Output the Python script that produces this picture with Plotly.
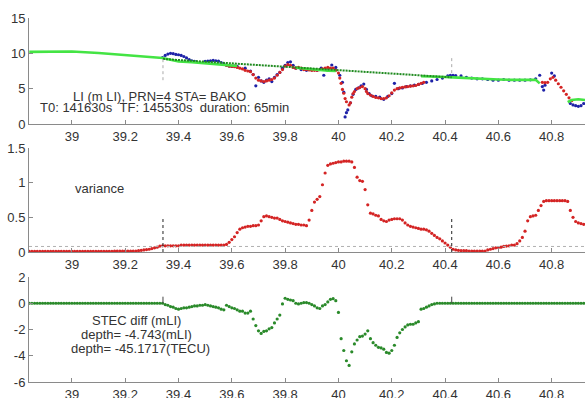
import plotly.graph_objects as go

# ---------------- data ----------------
T0_H = 141630 / 3600.0   # 39.342 h
TF_H = 145530 / 3600.0   # 40.425 h

x_ticks = [39, 39.2, 39.4, 39.6, 39.8, 40, 40.2, 40.4, 40.6, 40.8]
x_tick_text = ["39", "39.2", "39.4", "39.6", "39.8", "40", "40.2", "40.4", "40.6", "40.8"]

# top panel: LI
li_light_x = [38.84, 38.9, 39.0, 39.1, 39.2, 39.3, 39.34, 39.37, 39.4, 39.45, 39.5, 39.55, 39.6, 39.62, None,
              39.84, 39.88, 39.92, 39.96, 39.99, None,
              40.31, 40.35, 40.4, 40.43, 40.5, 40.55, 40.6, 40.65, 40.7, 40.74, 40.755, None,
              40.86, 40.875, 40.9, 40.925]
li_light_y = [10.2, 10.25, 10.25, 10.05, 9.8, 9.5, 9.35, 9.1, 8.85, 8.75, 8.6, 8.45, 8.3, 8.2, None,
              7.95, 7.8, 7.7, 7.55, 7.5, None,
              6.75, 6.75, 6.65, 6.6, 6.45, 6.35, 6.3, 6.25, 6.2, 6.25, 5.75, None,
              3.1, 3.4, 3.5, 3.4]

li_trend_x = [T0_H, TF_H]
li_trend_y = [9.2, 6.6]

li_blue_x = [39.34, 39.35, 39.36, 39.37, 39.38, 39.39, 39.40, 39.41, 39.42, 39.43, 39.44, 39.45, 39.46,
             39.50, 39.51, 39.52, 39.53, 39.54, 39.55, 39.56, 39.57, 39.58, 39.59, 39.60, 39.61, 39.62,
             39.65, 39.67, 39.68, 39.69, 39.70, 39.71, 39.72, 39.73, 39.74, 39.75, 39.76, 39.77, 39.78,
             39.79, 39.80, 39.81, 39.82, 39.83, 39.84,
             39.86, 39.88, 39.90, 39.92, 39.935, 39.945, 39.96, 39.975, 39.99, 40.005, 40.015, 40.02,
             40.025, 40.03, 40.035, 40.045, 40.055, 40.065, 40.075, 40.085, 40.095, 40.105, 40.115,
             40.125, 40.14, 40.155, 40.17, 40.185, 40.2, 40.21, 40.225, 40.24, 40.255, 40.27, 40.285,
             40.3, 40.315,
             40.33, 40.35, 40.37, 40.39, 40.41, 40.42, 40.43, 40.44, 40.46, 40.48, 40.50, 40.52, 40.54,
             40.56, 40.58, 40.60, 40.62, 40.64, 40.66, 40.68, 40.70, 40.72, 40.74, 40.755, 40.765,
             40.77, 40.775, 40.80, 40.81,
             40.87, 40.88, 40.89, 40.90, 40.91, 40.92]
li_blue_y = [9.4, 9.7, 9.9, 10.0, 9.95, 9.85, 9.8, 9.7, 9.55, 9.35, 9.1, 8.95, 8.85,
             8.85, 8.9, 8.95, 9.0, 8.95, 8.9, 8.7, 8.5, 8.3, 8.2, 8.15, 8.2, 8.15,
             7.9, 7.5, 7.0, 5.4, 6.6, 6.1, 5.9, 6.2, 6.4, 6.0, 6.6, 7.0, 7.3,
             7.9, 8.3, 8.7, 8.8, 8.3, 7.9,
             7.7, 7.6, 7.65, 7.6, 7.9, 6.9, 7.6, 8.35, 8.0, 6.9, 5.9, 4.5,
             1.0, 1.6, 2.0, 3.0, 4.2, 4.9, 5.1, 5.4, 5.65, 4.9, 4.3,
             4.0, 3.9, 3.8, 3.5, 3.9, 4.3, 5.75, 5.0, 5.1, 5.3, 5.4, 5.5,
             5.6, 5.75,
             5.9, 6.1, 6.3, 6.5, 6.8, 6.9, 6.9, 6.85, 6.8, 6.6, 6.5, 6.4, 6.4,
             6.3, 6.2, 6.2, 6.3, 6.2, 6.2, 6.2, 6.2, 6.25, 6.4, 6.9, 5.3,
             4.8, 5.5, 7.2, 6.8,
             2.9, 2.7, 2.6, 2.5, 2.6, 2.9]

li_red_x = [39.58, 39.59, 39.60, 39.61, 39.62, 39.63, 39.64, 39.65, 39.66, 39.67, 39.68, 39.69, 39.70,
            39.71, 39.72, 39.73, 39.74, 39.75, 39.76, 39.77, 39.78, 39.79, 39.80, 39.81, 39.82, 39.83,
            39.84, 39.85, 39.86, 39.87, 39.88, 39.89, 39.90, 39.91, 39.92, 39.93, 39.94, 39.95, 39.96,
            39.97, 39.98, 39.99, 40.0, 40.005, 40.01, 40.015, 40.02, 40.025, 40.03, 40.04, 40.045,
            40.05, 40.055, 40.06, 40.07, 40.08, 40.09, 40.10, 40.105, 40.11, 40.12, 40.13, 40.14,
            40.15, 40.16, 40.17, 40.18, 40.19, 40.20, 40.21, 40.22, 40.23, 40.24, 40.25, 40.26, 40.27,
            40.28, 40.29, 40.30, 40.31, 40.32,
            40.765, 40.775, 40.785, 40.795, 40.805, 40.815, 40.825, 40.835, 40.845, 40.855, 40.865, 40.875]
li_red_y = [8.3, 8.2, 8.15, 8.1, 8.0, 7.9, 7.8, 7.6, 7.5, 7.4, 7.0, 6.5, 6.2,
            6.1, 6.0, 6.1, 6.2, 6.3, 6.5, 6.9, 7.3, 7.7, 8.2, 8.4, 8.3, 8.0,
            7.9, 8.0, 7.9, 7.7, 7.7, 7.65, 7.6, 7.6, 7.6, 7.7, 7.8, 7.9, 8.0,
            7.9, 7.9, 7.6, 7.2, 6.5, 5.75, 4.9, 4.35, 3.6, 3.15, 2.7, 3.0,
            3.8, 4.3, 4.6, 5.0, 5.15, 5.3, 5.0, 4.6, 4.3, 4.1, 3.9, 3.75,
            3.7, 3.6, 3.6, 3.7, 4.0, 4.4, 4.8, 5.0, 5.1, 5.2, 5.25, 5.3, 5.35,
            5.4, 5.45, 5.6, 5.75, 5.9,
            5.9, 5.85, 5.9, 6.4, 6.6, 6.2, 5.7, 5.2, 4.7, 4.2, 3.7, 3.3]

# middle panel: variance, sampled every 0.01 h from 38.84
var_t_start = 38.84
var_t_step = 0.01
variance = (
    [0.01] * 32 +                                     # 38.84 - 39.15
    [0.015] * 9 +                                     # 39.16 - 39.24
    [0.02, 0.025, 0.03, 0.035, 0.04, 0.05, 0.06, 0.07, 0.085,   # 39.25 - 39.33
     0.09, 0.09, 0.09, 0.09, 0.09, 0.09, 0.09,        # 39.34 - 39.40
     0.1, 0.1, 0.1, 0.1, 0.1, 0.1, 0.1, 0.1, 0.1, 0.1,  # 39.41 - 39.50
     0.1, 0.1, 0.1, 0.1, 0.1, 0.1, 0.1,               # 39.51 - 39.57
     0.11, 0.14, 0.18, 0.22, 0.28, 0.33, 0.35, 0.36, 0.37, 0.37,  # 39.58 - 39.67
     0.38, 0.38, 0.39, 0.45, 0.51, 0.52, 0.51, 0.50, 0.49, 0.49,  # 39.68 - 39.77
     0.47, 0.45, 0.44, 0.43, 0.42, 0.41, 0.40, 0.40, 0.39, 0.39,  # 39.78 - 39.87
     0.38, 0.46, 0.60, 0.72, 0.76, 0.80, 0.97, 1.14, 1.25, 1.27,  # 39.88 - 39.97
     1.28, 1.29, 1.30, 1.30, 1.31, 1.31, 1.31, 1.30, 1.22, 1.08,  # 39.98 - 40.07
     1.03, 1.02, 0.90, 0.68, 0.56, 0.55, 0.53, 0.52, 0.47, 0.45,  # 40.08 - 40.17
     0.44, 0.46, 0.47, 0.48, 0.48, 0.48, 0.46, 0.42, 0.39, 0.37,  # 40.18 - 40.27
     0.36, 0.35, 0.34, 0.33, 0.33, 0.32, 0.30, 0.27, 0.24, 0.21,  # 40.28 - 40.37
     0.19, 0.16, 0.13, 0.10, 0.07, 0.04, 0.03, 0.025, 0.02, 0.02, # 40.38 - 40.47
     0.02, 0.015, 0.015, 0.015, 0.015, 0.015, 0.015, 0.015, 0.03, 0.04,  # 40.48 - 40.57
     0.05, 0.06, 0.065, 0.07, 0.08, 0.085, 0.09, 0.1, 0.1, 0.12,  # 40.58 - 40.67
     0.16, 0.21, 0.30, 0.45, 0.51, 0.52, 0.53, 0.60, 0.67, 0.73,  # 40.68 - 40.77
     0.74, 0.74, 0.74, 0.74, 0.74, 0.74, 0.74, 0.74, 0.73, 0.60,  # 40.78 - 40.87
     0.50, 0.44, 0.42, 0.41, 0.40]                                  # 40.88 - 40.92
)
var_threshold = 0.08

# bottom panel: STEC diff, sampled every 0.01 h from 38.84
stec_t_start = 38.84
stec_t_step = 0.01
stec_diff = (
    [0.0] * 51 +                                      # 38.84 - 39.34
    [-0.1, -0.15, -0.25, -0.3, -0.4, -0.45, -0.4, -0.35, -0.35, -0.3,   # 39.35 - 39.44
     -0.25, -0.2, -0.2, -0.15, -0.15, -0.1, -0.15, -0.2, -0.25, -0.3,   # 39.45 - 39.54
     -0.35, -0.45, -0.5, -0.15, -0.25, -0.35, -0.4, -0.5, -0.6, -0.6,   # 39.55 - 39.64
     -0.75, -0.75, -0.6, -1.2, -1.7, -2.1, -2.3, -2.15, -2.1, -1.95,    # 39.65 - 39.74
     -1.85, -1.5, -1.2, -0.9, -0.05, 0.38, 0.3, 0.25, 0.2, 0.0,         # 39.75 - 39.84
     -0.05, 0.0, 0.05, 0.05, 0.0, -0.1, -0.2, -0.35, -0.4, -0.2,        # 39.85 - 39.94
     -0.1, 0.1, 0.3, 0.35, 0.2, -0.7, -2.7, -3.6, -4.38, -4.74,         # 39.95 - 40.04
     -3.7, -3.1, -2.8, -2.55, -2.5, -2.35, -2.1, -2.7, -3.0, -3.2,      # 40.05 - 40.14
     -3.36, -3.4, -3.5, -3.75, -3.8, -3.6, -3.2, -2.6, -2.25, -2.0,     # 40.15 - 40.24
     -1.8, -1.65, -1.6, -1.6, -1.5, -1.4, -0.45, -0.4, -0.3, -0.2,      # 40.25 - 40.34
     -0.1, -0.05] +                                                       # 40.35 - 40.36
    [0.0] * 56                                                            # 40.37 - 40.92
)

# texts
NB = "\u00a0"
li_title = "LI (m LI), PRN=4 STA= BAKO"
li_sub = "T0: 141630s" + NB * 2 + "TF: 145530s" + NB * 2 + "duration: 65min"
var_label = "variance"
stec_labels = ["STEC diff (mLI)", "depth= -4.743(mLI)", "depth= -45.1717(TECU)"]

# ---------------- figure ----------------
var_x = [round(var_t_start + i * var_t_step, 4) for i in range(len(variance))]
stec_x = [round(stec_t_start + i * stec_t_step, 4) for i in range(len(stec_diff))]

C_RED = "#d42424"
C_BLUE = "#1e22a8"
C_LIME = "#44e444"
C_DKGREEN = "#1f8a1f"
C_STEC = "#2a8a2a"
AX = "#8a8a8a"
TXT = "#333333"
FONT = "Liberation Sans, Arial, sans-serif"
FS_TICK = 13
FS_TXT = 13

fig = go.Figure()
fig.add_trace(go.Scatter(x=li_blue_x, y=li_blue_y, mode="markers",
                         marker=dict(color=C_BLUE, size=3.2), xaxis="x", yaxis="y"))
fig.add_trace(go.Scatter(x=li_red_x, y=li_red_y, mode="markers",
                         marker=dict(color=C_RED, size=3.2), xaxis="x", yaxis="y"))
fig.add_trace(go.Scatter(x=li_light_x, y=li_light_y, mode="lines",
                         line=dict(color=C_LIME, width=2.6), connectgaps=False, xaxis="x", yaxis="y"))
fig.add_trace(go.Scatter(x=li_trend_x, y=li_trend_y, mode="lines",
                         line=dict(color=C_DKGREEN, width=2, dash="2px,1px"), xaxis="x", yaxis="y"))

fig.add_trace(go.Scatter(x=var_x, y=variance, mode="markers",
                         marker=dict(color=C_RED, size=3.2), xaxis="x2", yaxis="y2"))
fig.add_trace(go.Scatter(x=stec_x, y=stec_diff, mode="markers",
                         marker=dict(color=C_STEC, size=3.2), xaxis="x3", yaxis="y3"))

X_RANGE = [38.839, 40.925]
dom = {"y": [0.6884, 0.9548], "y2": [0.3668, 0.6281], "y3": [0.0402, 0.3040]}


def xax(anchor):
    return dict(range=X_RANGE, domain=[0, 1], anchor=anchor, tickvals=x_ticks, ticktext=x_tick_text,
                showgrid=False, zeroline=False, showline=True, linecolor=AX, linewidth=1,
                ticks="inside", ticklen=4, tickcolor=AX, automargin=False,
                tickfont=dict(size=FS_TICK, color=TXT, family=FONT))


def yax(anchor, rng, tv, tt, d):
    return dict(range=rng, domain=d, anchor=anchor, tickvals=tv, ticktext=tt,
                showgrid=False, zeroline=False, showline=True, linecolor=AX, linewidth=1,
                ticks="inside", ticklen=4, tickcolor=AX, automargin=False,
                tickfont=dict(size=FS_TICK, color=TXT, family=FONT))


shapes = []
# top panel dotted markers
shapes.append(dict(type="line", xref="x", yref="y", x0=T0_H, x1=T0_H, y0=6.2, y1=9.3,
                   line=dict(color="#aaaaaa", width=1, dash="dot")))
shapes.append(dict(type="line", xref="x", yref="y", x0=TF_H, x1=TF_H, y0=7.2, y1=9.5,
                   line=dict(color="#aaaaaa", width=1, dash="dot")))
# variance threshold and markers
shapes.append(dict(type="line", xref="x2", yref="y2", x0=X_RANGE[0], x1=X_RANGE[1],
                   y0=var_threshold, y1=var_threshold, line=dict(color="#b0b0b0", width=1, dash="dot")))
for t in (T0_H, TF_H):
    shapes.append(dict(type="line", xref="x2", yref="y2", x0=t, x1=t, y0=0, y1=0.5,
                       line=dict(color="#222222", width=1, dash="dot")))
    shapes.append(dict(type="line", xref="x3", yref="y3", x0=t, x1=t, y0=0, y1=0.5,
                       line=dict(color="#444444", width=1)))

ann_font = dict(size=FS_TXT, color=TXT, family=FONT)
annotations = [
    dict(x=39.33, y=3.95, xref="x", yref="y", text=li_title, showarrow=False, font=ann_font),
    dict(x=39.346, y=2.3, xref="x", yref="y", text=li_sub, showarrow=False, font=ann_font),
    dict(x=39.105, y=0.92, xref="x2", yref="y2", text=var_label, showarrow=False, font=ann_font),
    dict(x=39.244, y=-1.31, xref="x3", yref="y3", text=stec_labels[0], showarrow=False, font=ann_font),
    dict(x=39.244, y=-2.38, xref="x3", yref="y3", text=stec_labels[1], showarrow=False, font=ann_font),
    dict(x=39.259, y=-3.46, xref="x3", yref="y3", text=stec_labels[2], showarrow=False, font=ann_font),
]

fig.update_layout(
    width=585, height=398,
    margin=dict(l=29, r=0, t=0, b=0, autoexpand=False),
    paper_bgcolor="white", plot_bgcolor="white",
    showlegend=False,
    font=dict(family=FONT, size=12, color=TXT),
    xaxis=xax("y"), xaxis2=xax("y2"), xaxis3=xax("y3"),
    yaxis=yax("x", [0, 15], [0, 5, 10, 15], ["0", "5", "10", "15"], dom["y"]),
    yaxis2=yax("x2", [0, 1.5], [0, 0.5, 1, 1.5], ["0", "0.5", "1", "1.5"], dom["y2"]),
    yaxis3=yax("x3", [-6, 2], [-6, -4, -2, 0, 2], ["-6", "-4", "-2", "0", "2"], dom["y3"]),
    shapes=shapes, annotations=annotations,
)

fig.write_html("out.html", config={"displayModeBar": False},
               post_script="document.body.style.margin='0';document.body.style.overflow='hidden';")
